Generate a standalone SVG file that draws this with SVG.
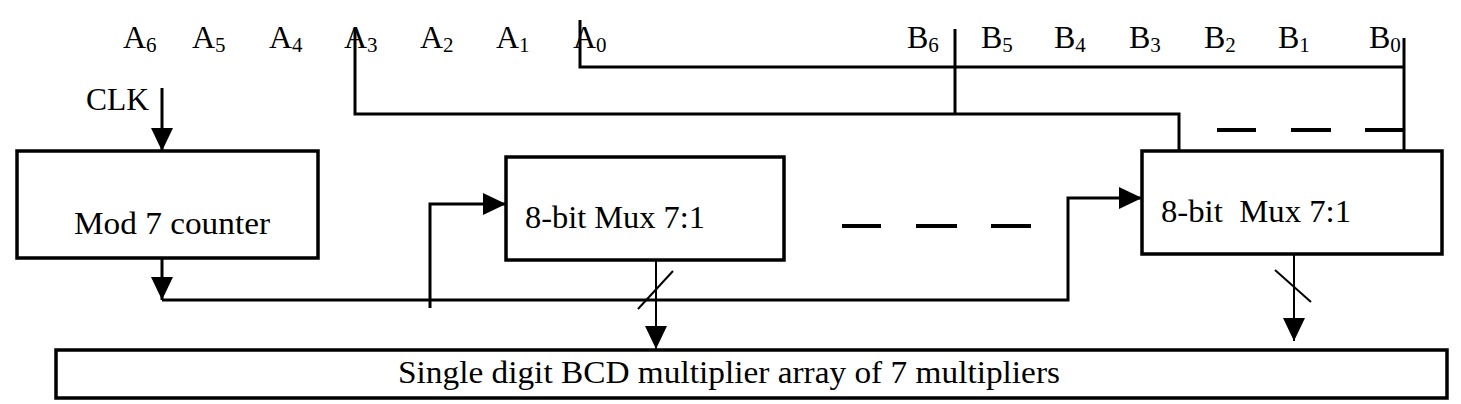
<svg xmlns="http://www.w3.org/2000/svg" width="1461" height="404" viewBox="0 0 1461 404">
<style>
text{font-family:"Times New Roman","Liberation Serif",Tinos,serif;fill:#000}
.lbl{font-size:32px}
.sub{font-size:21px}
.box{fill:#fff;stroke:#000;stroke-width:3.5}
.ln{fill:none;stroke:#000;stroke-width:3}
.th{fill:none;stroke:#000;stroke-width:2}
.ds{fill:none;stroke:#000;stroke-width:4}
</style>
<defs>
<marker id="ah" markerUnits="userSpaceOnUse" markerWidth="24" markerHeight="24" refX="23" refY="11" orient="auto">
<path d="M0,0 L23,11 L0,22 Z" fill="#000"/>
</marker>
</defs>
<g id="labels" class="lbl">
<text x="123" y="48">A<tspan class="sub" dy="4">6</tspan></text>
<text x="192" y="48">A<tspan class="sub" dy="4">5</tspan></text>
<text x="269" y="48">A<tspan class="sub" dy="4">4</tspan></text>
<text x="344" y="48">A<tspan class="sub" dy="4">3</tspan></text>
<text x="420" y="48">A<tspan class="sub" dy="4">2</tspan></text>
<text x="496" y="48">A<tspan class="sub" dy="4">1</tspan></text>
<text x="573" y="48">A<tspan class="sub" dy="4">0</tspan></text>
<text x="907" y="48">B<tspan class="sub" dy="4">6</tspan></text>
<text x="981" y="48">B<tspan class="sub" dy="4">5</tspan></text>
<text x="1054" y="48">B<tspan class="sub" dy="4">4</tspan></text>
<text x="1129" y="48">B<tspan class="sub" dy="4">3</tspan></text>
<text x="1204" y="48">B<tspan class="sub" dy="4">2</tspan></text>
<text x="1278" y="48">B<tspan class="sub" dy="4">1</tspan></text>
<text x="1369" y="48">B<tspan class="sub" dy="4">0</tspan></text>
<text x="86" y="110" textLength="63" lengthAdjust="spacingAndGlyphs">CLK</text>
</g>
<g id="counter">
<rect class="box" x="17" y="151" width="301" height="107"/>
<text class="lbl" x="74" y="234" textLength="196" lengthAdjust="spacingAndGlyphs">Mod 7 counter</text>
</g>
<g id="mux1">
<rect class="box" x="506" y="157" width="278" height="103"/>
<text class="lbl" x="525" y="228" textLength="180" lengthAdjust="spacingAndGlyphs">8-bit Mux 7:1</text>
</g>
<g id="mux2">
<rect class="box" x="1142" y="151" width="300" height="103"/>
<text class="lbl" x="1161" y="222" textLength="190" lengthAdjust="spacingAndGlyphs" xml:space="preserve">8-bit  Mux 7:1</text>
</g>
<g id="multiplier">
<rect class="box" x="56" y="350" width="1391" height="48"/>
<text x="398" y="383" font-size="31" textLength="662" lengthAdjust="spacingAndGlyphs">Single digit BCD multiplier array of 7 multipliers</text>
</g>
<g id="connectors">
<path class="ln" d="M355,28 V114 H1179 V151"/>
<path class="ln" d="M580,20 V67 H1404"/>
<path class="ln" d="M1404,38 V151"/>
<path class="ln" d="M955,29 V114"/>
<path class="ds" d="M1217,130 H1256 M1291,130 H1331 M1365,130 H1404"/>
<path class="ds" d="M842,226 H881 M916,226 H957 M991,226 H1031"/>
<path class="ln" d="M162,88 V151" marker-end="url(#ah)"/>
<path class="ln" d="M162,258 V300" marker-end="url(#ah)"/>
<path class="ln" d="M162,300 H1068 V198 H1142" marker-end="url(#ah)"/>
<path class="ln" d="M430,308 V204 H506" marker-end="url(#ah)"/>
<path class="th" d="M656,260 V349" marker-end="url(#ah)"/>
<path class="th" d="M673,271 L638,309"/>
<path class="th" d="M1294,254 V341" marker-end="url(#ah)"/>
<path class="th" d="M1275,270 L1311,302"/>
</g>
</svg>
